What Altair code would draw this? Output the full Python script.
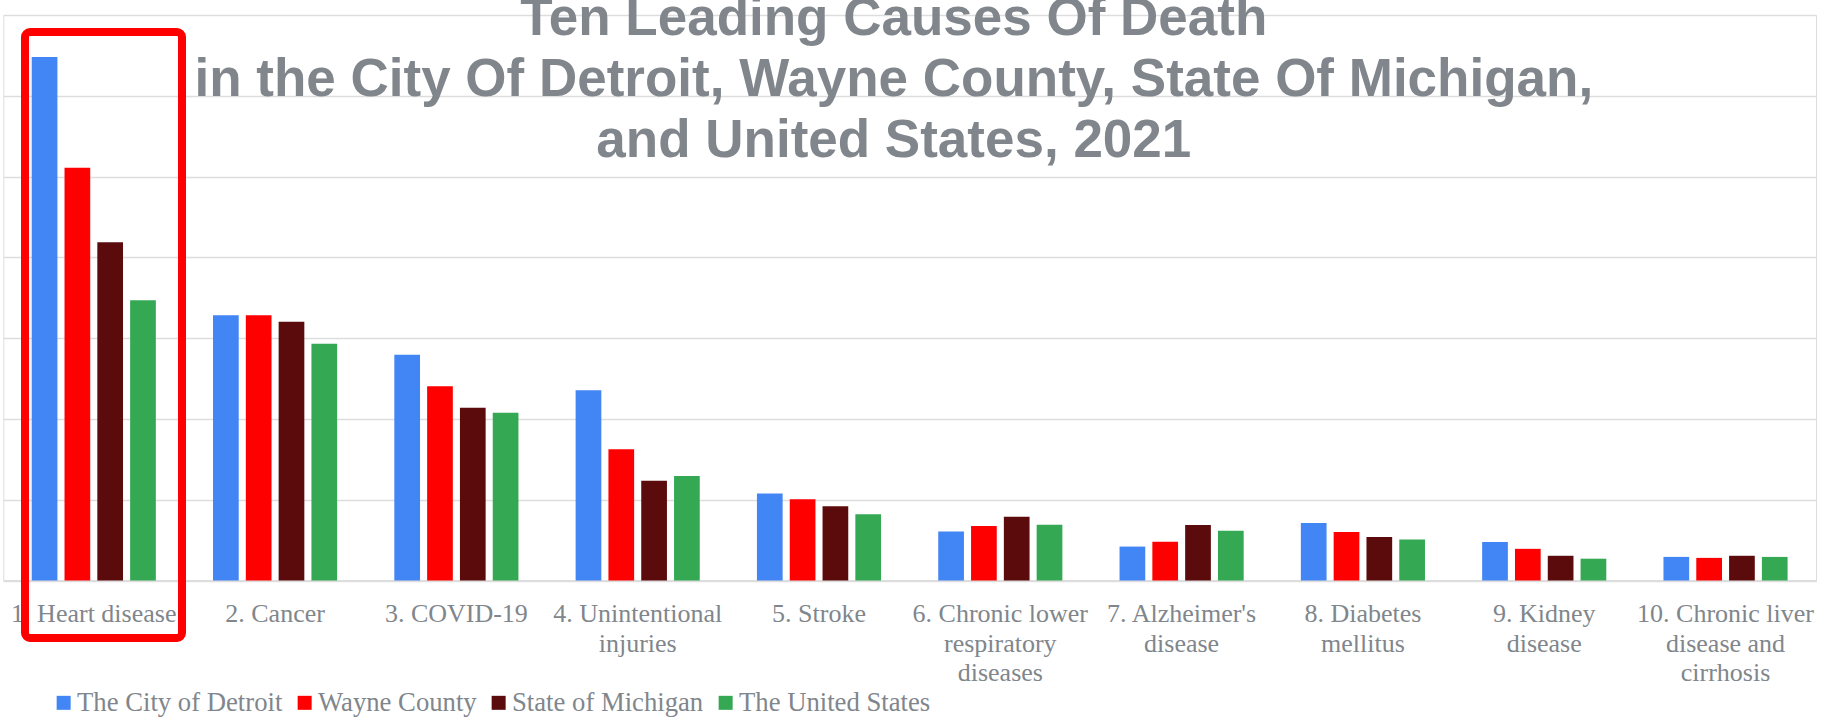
import altair as alt
import pandas as pd

# Causes of death (x categories); "\n" marks where a label wraps
causes = [
    "1. Heart disease",
    "2. Cancer",
    "3. COVID-19",
    "4. Unintentional\ninjuries",
    "5. Stroke",
    "6. Chronic lower\nrespiratory\ndiseases",
    "7. Alzheimer's\ndisease",
    "8. Diabetes\nmellitus",
    "9. Kidney\ndisease",
    "10. Chronic liver\ndisease and\ncirrhosis",
]

areas = ["The City of Detroit", "Wayne County", "State of Michigan", "The United States"]

# Age-adjusted death rates per 100,000, 2021
detroit = [324.0, 164.1, 139.7, 117.8, 53.9, 30.3, 21.0, 35.6, 23.8, 14.6]
wayne = [255.5, 164.1, 120.2, 81.2, 50.3, 33.8, 24.0, 30.0, 19.6, 14.0]
michigan = [209.4, 160.1, 106.9, 61.8, 46.0, 39.5, 34.3, 26.9, 15.3, 15.3]
usa = [173.4, 146.5, 103.8, 64.7, 41.0, 34.5, 30.8, 25.3, 13.5, 14.6]

colors = ["#4285F4", "#FF0000", "#5B0B0B", "#34A853"]

title_lines = [
    "Ten Leading Causes Of Death",
    "in the City Of Detroit, Wayne County, State Of Michigan,",
    "and United States, 2021",
]

rows = []
for area, series in zip(areas, [detroit, wayne, michigan, usa]):
    for cause, rate in zip(causes, series):
        rows.append({"cause": cause, "area": area, "rate": rate})
df = pd.DataFrame(rows)

PLOT_W = 1812.7
PLOT_H = 565.5
GREY = "#80868B"
GRID = "#DDDDDD"
SERIF = "Liberation Serif"

bars = alt.Chart(df).mark_bar().encode(
    x=alt.X(
        "cause:N",
        sort=causes,
        scale=alt.Scale(paddingInner=0.3154, paddingOuter=0.1567),
        axis=alt.Axis(
            title=None,
            labelExpr="split(datum.value, '\\n')",
            labelAngle=0,
            labelFont=SERIF,
            labelFontSize=26,
            labelColor=GREY,
            labelLineHeight=29.5,
            labelPadding=20,
            labelOverlap=False,
            labelBound=False,
            labelLimit=0,
            ticks=False,
            tickSize=0,
            grid=False,
            domainColor=GRID,
            domainWidth=2,
        ),
    ),
    xOffset=alt.XOffset(
        "area:N",
        sort=areas,
        scale=alt.Scale(paddingInner=0.2165, paddingOuter=0),
    ),
    y=alt.Y(
        "rate:Q",
        scale=alt.Scale(domain=[0, 350], nice=False),
        axis=alt.Axis(
            title=None,
            labels=False,
            ticks=False,
            domain=False,
            values=[0, 50, 100, 150, 200, 250, 300, 350],
            gridColor=GRID,
            gridWidth=1.5,
        ),
    ),
    color=alt.Color(
        "area:N",
        sort=areas,
        scale=alt.Scale(domain=areas, range=colors),
        legend=alt.Legend(
            title=None,
            orient="none",
            legendX=43.5,
            legendY=674,
            direction="horizontal",
            columns=4,
            symbolType="square",
            symbolSize=196,
            symbolStrokeWidth=0,
            symbolOffset=3.5,
            labelFont=SERIF,
            labelFontSize=26.7,
            labelColor=GREY,
            labelOffset=0,
            columnPadding=5,
            padding=0,
            labelLimit=0,
        ),
    ),
)

title = alt.Chart(pd.DataFrame({"t": ["\n".join(title_lines)]})).mark_text(
    font="Liberation Sans",
    fontSize=53,
    fontWeight="bold",
    color=GREY,
    align="center",
    baseline="alphabetic",
    lineBreak="\n",
    lineHeight=61,
).encode(
    text="t:N",
    x=alt.value(890.5),
    y=alt.value(20.2),
)

# Highlight frame around the leading cause
highlight = alt.Chart(pd.DataFrame({"k": [0]})).mark_rect(
    fill="transparent",
    stroke="#FF0000",
    strokeWidth=8,
    cornerRadius=5,
).encode(
    x=alt.value(21.7),
    x2=alt.value(178.7),
    y=alt.value(17),
    y2=alt.value(623),
)

chart = alt.layer(bars, title, highlight).properties(
    width=PLOT_W,
    height=PLOT_H,
    autosize=alt.AutoSizeParams(type="none"),
    padding={"left": 3.3, "top": 15, "right": 5, "bottom": 136.5},
).configure_view(stroke=None).configure(background="white")

chart.save("out.html", embed_options={"renderer": "svg", "actions": False})
